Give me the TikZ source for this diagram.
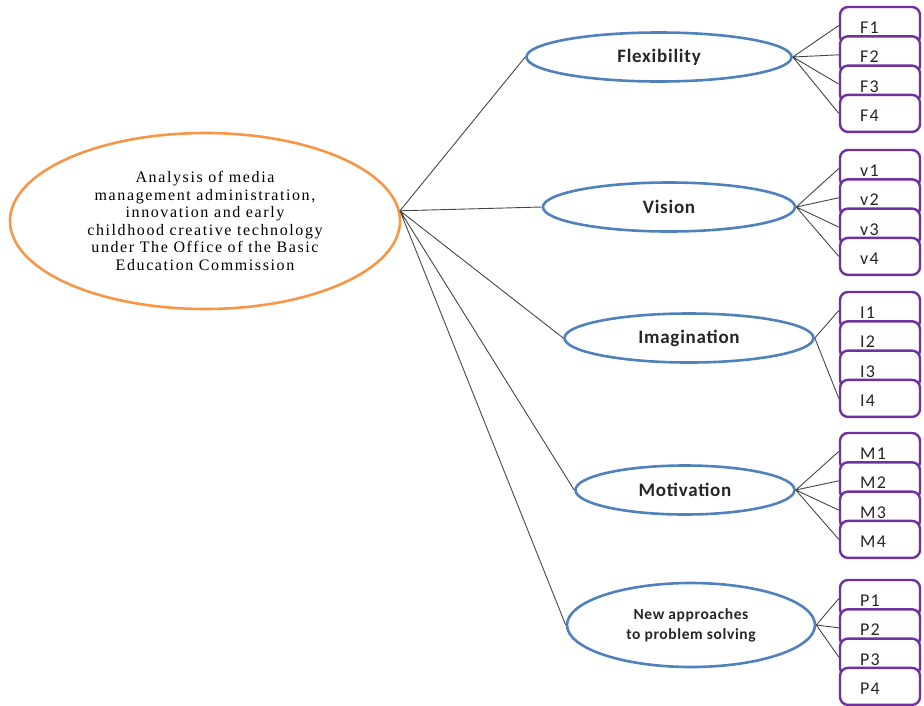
\documentclass[tikz,border=0pt]{standalone}
\usepackage{fontspec}
\setmainfont{Liberation Serif}
\newfontfamily\rootfont[LetterSpace=10]{Liberation Serif}
\newfontfamily\catfont[LetterSpace=4]{Carlito}
\newfontfamily\itmfont[LetterSpace=8]{Carlito}
\usetikzlibrary{shapes.geometric}
\definecolor{ringorange}{RGB}{247,150,70}
\definecolor{ringblue}{RGB}{79,129,189}
\definecolor{boxpurple}{RGB}{112,48,160}
\definecolor{linkgray}{RGB}{70,70,70}

\begin{document}
\begin{tikzpicture}[x=1pt,y=-1pt,
        root/.style={ellipse, draw=ringorange, line width=2.6pt,
                        inner sep=0pt, minimum width=390pt, minimum height=176pt,
                        font=\rootfont\fontsize{16}{17.6}\selectfont, align=center},
        cat/.style={ellipse, draw=ringblue, line width=2.6pt, fill=white,
                        inner sep=0pt, minimum height=49pt, text=black!85,
                        font=\catfont\bfseries\fontsize{19}{20}\selectfont, align=center},
        itm/.style={rectangle, rounded corners=8pt, draw=boxpurple,
                        line width=2.4pt, fill=white, minimum height=37pt,
                        text width=40pt, inner xsep=20pt, text=black!85,
                        text height=16pt, text depth=0pt,
                        font=\itmfont\fontsize{18}{18}\selectfont},
        link/.style={linkgray, line width=0.9pt}]
    \useasboundingbox (0,0) rectangle (924,705);

    % centre ellipse
    \node[root] (root) at (205,221) {Analysis of media\\
        management administration,\\
        innovation and early\\
        childhood creative technology\\
        under The Office of the Basic\\
        Education Commission};

    % the five factors
    \node[cat, minimum width=265pt] (flex)  at (659,57)  {Flexibility};
    \node[cat, minimum width=252pt] (vis)   at (669,207) {Vision};
    \node[cat, minimum width=249pt] (imag)  at (689,338) {Imagination};
    \node[cat, minimum width=219pt] (motiv) at (685,490) {Motivation};
    \node[cat, minimum width=248pt, minimum height=84pt,
          font=\catfont\bfseries\fontsize{15.5}{20}\selectfont] (newap) at (691,625)
          {New approaches\\to problem solving};

    % stacked boxes, each group of four
    \foreach \g/\t/\y in {f/F/7, v/v/150, i/I/292, m/M/433, p/P/580} {
        \foreach \k in {1,...,4} {
            \node[itm] (\g\k) at (880,\y+29.3*\k-29.3+18.5) {\t\k};
        }
    }

    \draw[link]
        (root.3) -- (flex.west)
        (root.3) -- (vis.west)
        (root.3) -- (imag.west)
        (root.3) -- (motiv.west)
        (root.3) -- (newap.west)
        \foreach \k in {1,...,4} {
            (flex.east) -- (f\k.west)
            (vis.east) -- (v\k.west)
            (motiv.east) -- (m\k.west)
        }
        \foreach \k in {1,2,3} {
            (newap.east) -- (p\k.west)
        }
        (imag.east) -- (i1.west)
        (imag.east) -- (i4.west)
    ;
\end{tikzpicture}
\end{document}
